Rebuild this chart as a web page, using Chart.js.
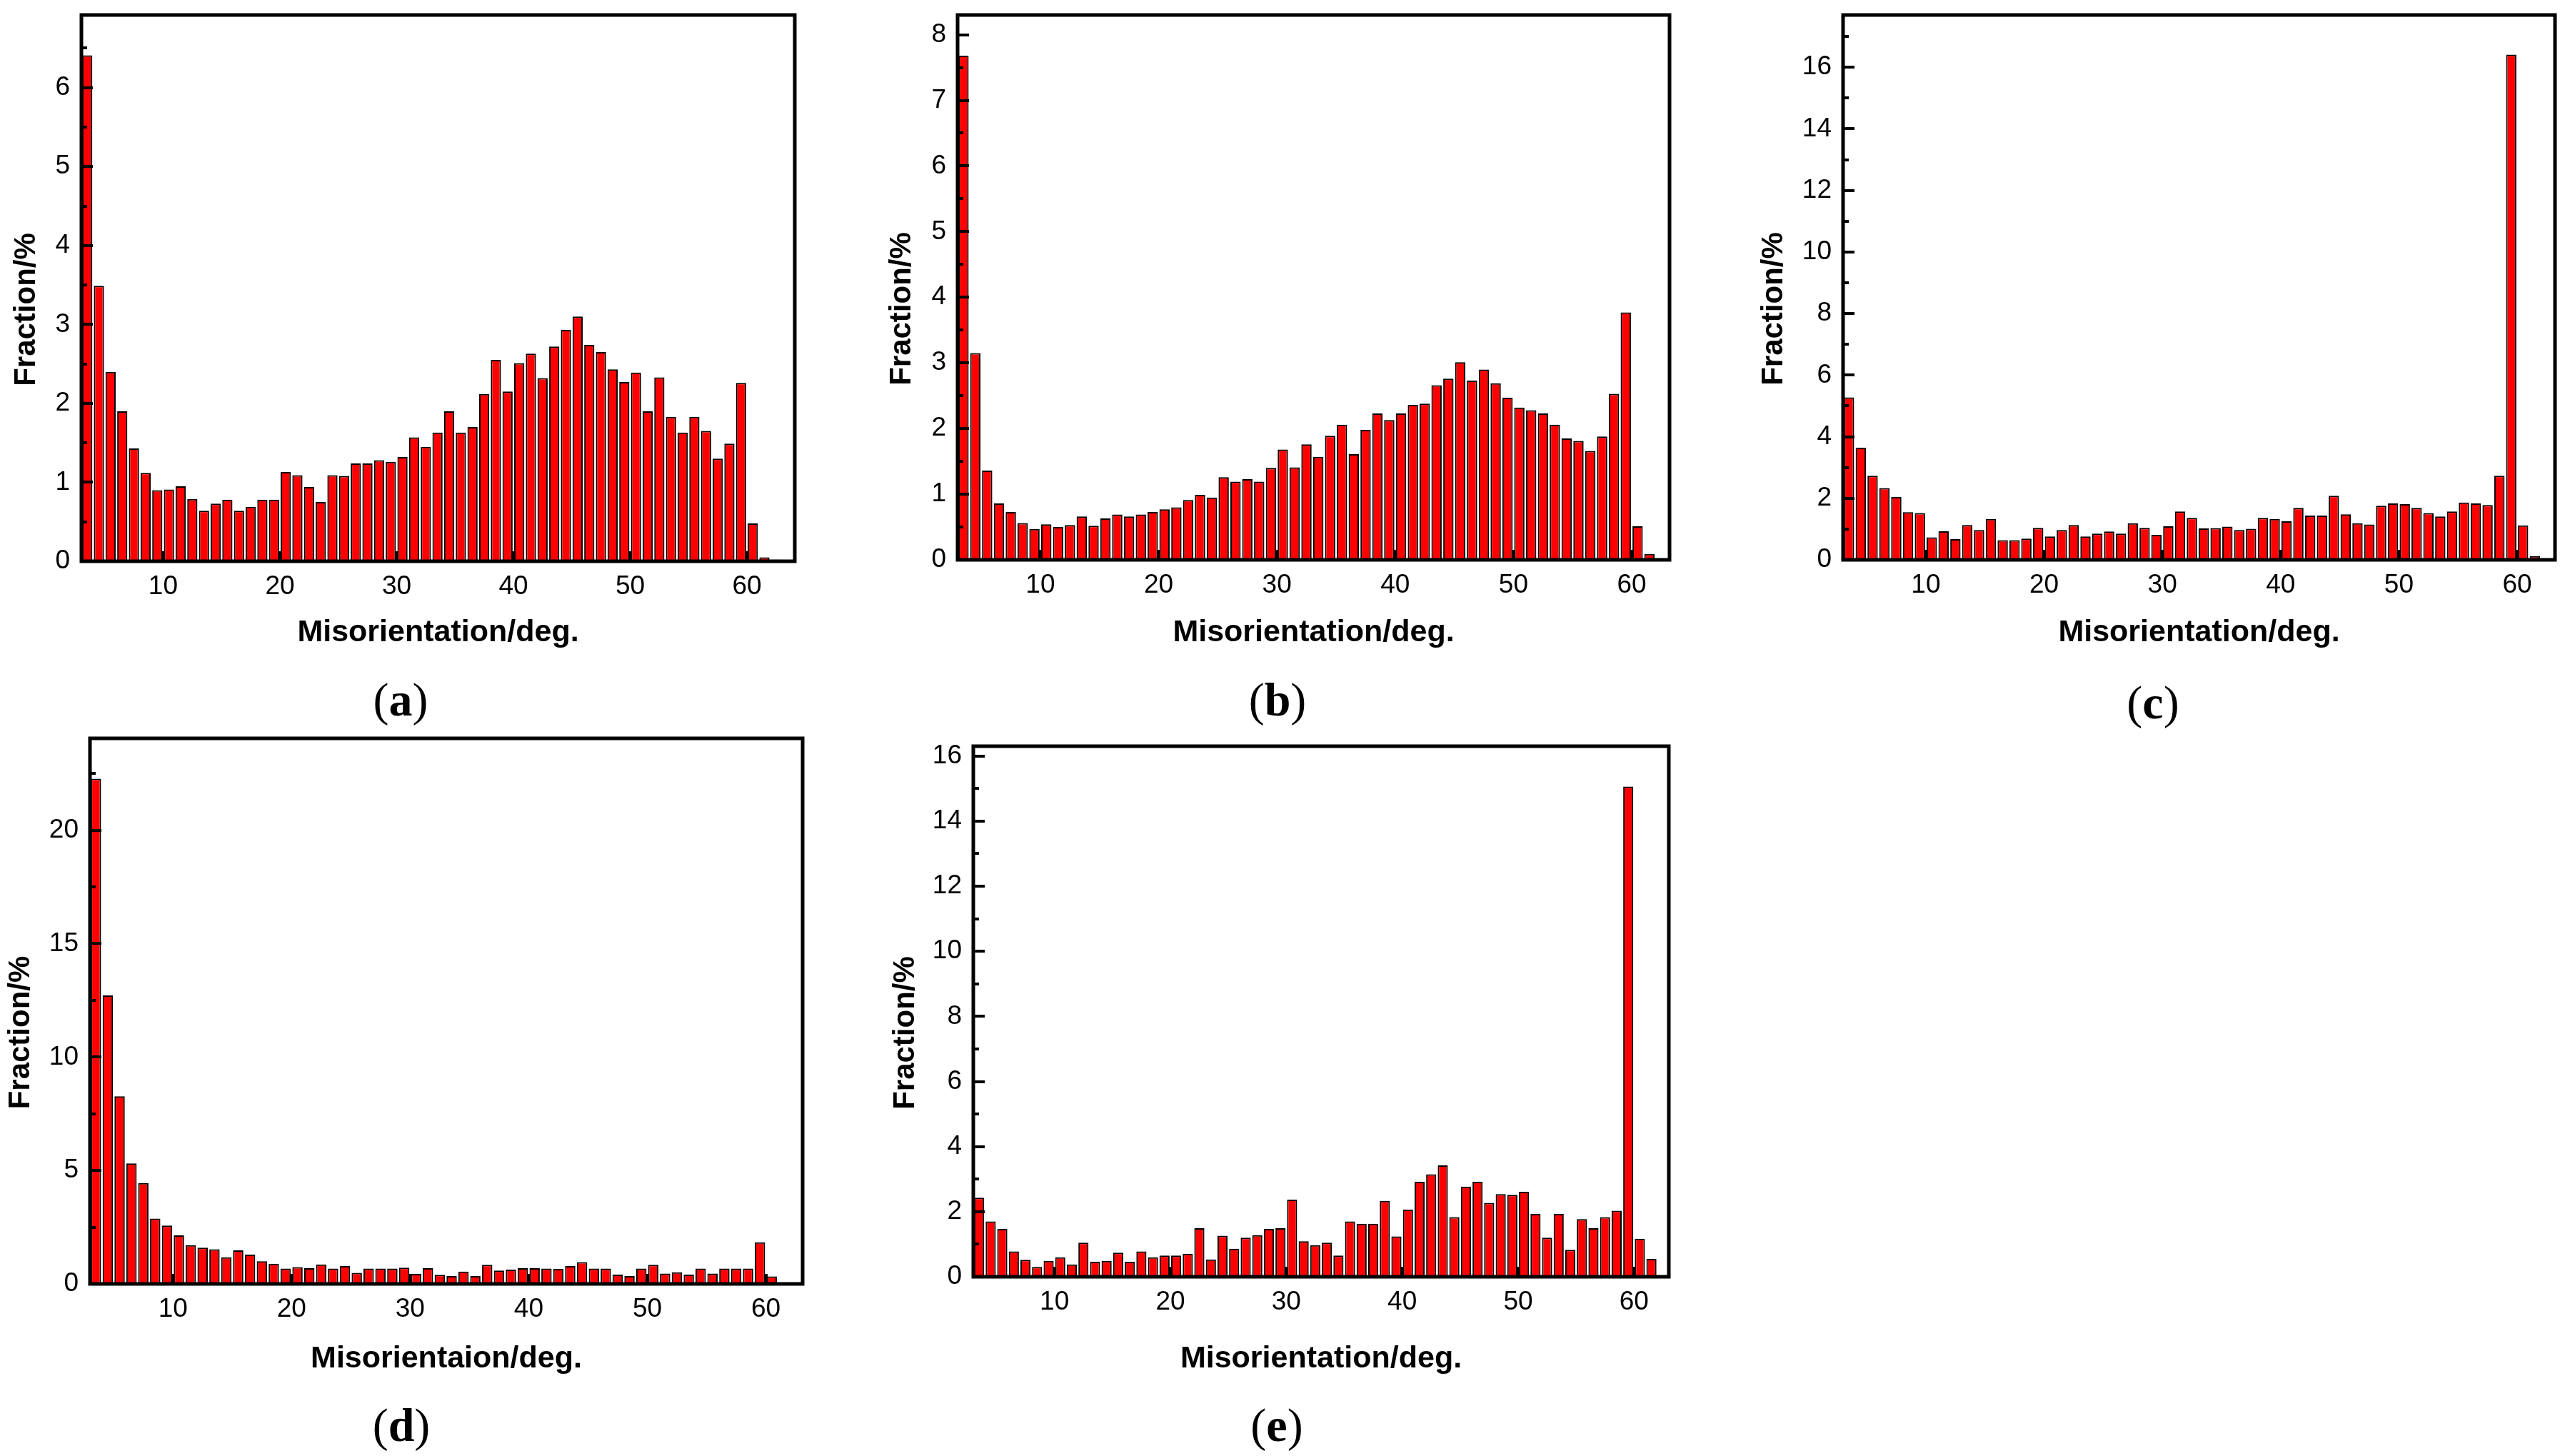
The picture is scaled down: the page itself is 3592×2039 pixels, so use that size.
<!DOCTYPE html>
<html>
<head>
<meta charset="utf-8">
<title>Misorientation distributions</title>
<script src="https://cdn.jsdelivr.net/npm/chart.js@4.4.1/dist/chart.umd.min.js"></script>
<style>
    html, body { margin: 0; padding: 0; background: #fff; }
    #page { position: relative; width: 3592px; height: 2039px; overflow: hidden; background: #fff; }
    #page canvas { position: absolute; }
    .cap {
        position: absolute;
        font-family: "Liberation Serif", "Times New Roman", serif;
        font-size: 66px;
        line-height: 1;
        white-space: nowrap;
        transform: translate(-50%, -50%);
        color: #000;
    }
</style>
</head>
<body>
<div id="page"></div>
<script>
// left edge of each 1 degree misorientation bin
const bins = [3, 4, 5, 6, 7, 8, 9, 10, 11, 12, 13, 14, 15, 16, 17, 18, 19, 20, 21, 22,
    23, 24, 25, 26, 27, 28, 29, 30, 31, 32, 33, 34, 35, 36, 37, 38, 39, 40, 41, 42,
    43, 44, 45, 46, 47, 48, 49, 50, 51, 52, 53, 54, 55, 56, 57, 58, 59, 60, 61, 62];

// fraction (%) per bin
const fracA = [6.41, 3.49, 2.40, 1.90, 1.43, 1.12, 0.90, 0.91, 0.95, 0.79,
    0.64, 0.73, 0.78, 0.64, 0.69, 0.78, 0.78, 1.13, 1.09, 0.94,
    0.75, 1.09, 1.08, 1.24, 1.24, 1.28, 1.26, 1.32, 1.57, 1.45,
    1.63, 1.90, 1.63, 1.70, 2.12, 2.55, 2.15, 2.51, 2.63, 2.32,
    2.72, 2.93, 3.10, 2.74, 2.65, 2.43, 2.27, 2.39, 1.90, 2.33,
    1.83, 1.63, 1.83, 1.65, 1.30, 1.49, 2.26, 0.48, 0.05, 0.02];
const fracB = [7.68, 3.15, 1.36, 0.86, 0.73, 0.56, 0.47, 0.54, 0.50, 0.53,
    0.66, 0.52, 0.63, 0.69, 0.66, 0.69, 0.73, 0.77, 0.80, 0.91,
    0.99, 0.95, 1.26, 1.19, 1.23, 1.19, 1.40, 1.68, 1.41, 1.76,
    1.57, 1.89, 2.06, 1.61, 1.98, 2.23, 2.13, 2.23, 2.36, 2.38,
    2.66, 2.76, 3.01, 2.73, 2.90, 2.69, 2.47, 2.32, 2.28, 2.23,
    2.06, 1.85, 1.81, 1.66, 1.88, 2.53, 3.77, 0.51, 0.09];
const fracC = [5.28, 3.64, 2.73, 2.33, 2.04, 1.55, 1.52, 0.73, 0.93, 0.67,
    1.13, 0.97, 1.33, 0.64, 0.64, 0.69, 1.04, 0.76, 0.97, 1.13,
    0.76, 0.85, 0.92, 0.85, 1.19, 1.04, 0.81, 1.09, 1.57, 1.36,
    1.02, 1.03, 1.08, 0.97, 1.01, 1.36, 1.33, 1.25, 1.69, 1.44,
    1.44, 2.08, 1.48, 1.19, 1.15, 1.76, 1.83, 1.81, 1.69, 1.52,
    1.41, 1.57, 1.86, 1.83, 1.78, 2.73, 16.41, 1.12, 0.12];
const fracD = [22.27, 12.72, 8.27, 5.31, 4.45, 2.88, 2.57, 2.14, 1.71, 1.60,
    1.53, 1.17, 1.48, 1.29, 1.00, 0.89, 0.68, 0.74, 0.69, 0.86,
    0.68, 0.79, 0.49, 0.68, 0.68, 0.68, 0.72, 0.44, 0.69, 0.40,
    0.35, 0.54, 0.35, 0.84, 0.59, 0.63, 0.69, 0.69, 0.68, 0.66,
    0.79, 0.96, 0.68, 0.68, 0.41, 0.35, 0.68, 0.84, 0.46, 0.51,
    0.41, 0.68, 0.46, 0.68, 0.68, 0.68, 1.83, 0.33];
const fracE = [2.43, 1.70, 1.47, 0.78, 0.52, 0.30, 0.49, 0.60, 0.38, 1.05,
    0.46, 0.49, 0.74, 0.46, 0.78, 0.60, 0.65, 0.65, 0.71, 1.49,
    0.53, 1.26, 0.86, 1.20, 1.28, 1.47, 1.49, 2.37, 1.09, 0.97,
    1.05, 0.65, 1.70, 1.63, 1.63, 2.33, 1.24, 2.06, 2.92, 3.15,
    3.42, 1.83, 2.77, 2.92, 2.27, 2.54, 2.52, 2.61, 1.93, 1.20,
    1.93, 0.83, 1.77, 1.49, 1.83, 2.03, 15.06, 1.17, 0.55];

// tick labels
const xTickLabels = [10, 20, 30, 40, 50, 60];
const yTicksA = [0, 1, 2, 3, 4, 5, 6];
const yTicksB = [0, 1, 2, 3, 4, 5, 6, 7, 8];
const yTicksC = [0, 2, 4, 6, 8, 10, 12, 14, 16];
const yTicksD = [0, 5, 10, 15, 20];
const yTicksE = [0, 2, 4, 6, 8, 10, 12, 14, 16];

const SANS = '"Liberation Sans", Arial, Helvetica, sans-serif';
const NARROW = '"Liberation Sans Narrow", "Arial Narrow", "Liberation Sans", Arial, sans-serif';
const TICK_SIZE = 37;
const YTITLE_SIZE = 42;
const XTITLE_SIZE = 43;
const Y_TITLE = 'Fraction/%';

// plot box (page px), title positions, axis ranges
const panels = [
    { tag: 'a', vals: fracA, yTicks: yTicksA, minor: 0.5, yMax: 6.92, xMax: 64.1,
      plot: [114, 21, 1113, 786], yTitleX: 37, xTitleY: 886, cap: [561, 980],
      xTitle: 'Misorientation/deg.' },
    { tag: 'b', vals: fracB, yTicks: yTicksB, minor: 0.5, yMax: 8.3, xMax: 63.2,
      plot: [1341, 21, 2338, 784], yTitleX: 1263, xTitleY: 886, cap: [1789, 980],
      xTitle: 'Misorientation/deg.' },
    { tag: 'c', vals: fracC, yTicks: yTicksC, minor: 1, yMax: 17.7, xMax: 63.2,
      plot: [2581, 21, 3578, 784], yTitleX: 2484, xTitleY: 886, cap: [3015, 984],
      xTitle: 'Misorientation/deg.' },
    { tag: 'd', vals: fracD, yTicks: yTicksD, minor: 2.5, yMax: 24.05, xMax: 63.1,
      plot: [126, 1034, 1124, 1798], yTitleX: 29, xTitleY: 1903, cap: [562, 1996],
      xTitle: 'Misorientaion/deg.' },
    { tag: 'e', vals: fracE, yTicks: yTicksE, minor: 1, yMax: 16.3, xMax: 63.0,
      plot: [1363, 1045, 2337, 1788], yTitleX: 1268, xTitleY: 1903, cap: [1788, 1996],
      xTitle: 'Misorientation/deg.' }
];

// black frame, inward ticks and the y title (sits a bit below centre in the original)
const frameTicks = {
    id: 'frameTicks',
    afterDatasetsDraw(chart, args, opts) {
        const { ctx, chartArea: a, scales: { x, y } } = chart;
        ctx.save();
        ctx.strokeStyle = '#000';
        ctx.lineCap = 'butt';

        ctx.lineWidth = 4;
        ctx.beginPath();
        opts.yTicks.forEach(v => {
            const py = Math.round(y.getPixelForValue(v));
            ctx.moveTo(a.left, py);
            ctx.lineTo(a.left + 16, py);
        });
        for (let v = opts.minor; v < opts.yMax; v += opts.minor) {
            if (opts.yTicks.includes(+v.toFixed(3))) continue;
            const py = Math.round(y.getPixelForValue(v));
            ctx.moveTo(a.left, py);
            ctx.lineTo(a.left + 8, py);
        }
        xTickLabels.forEach(v => {
            const px = Math.round(x.getPixelForValue(v));
            ctx.moveTo(px, a.bottom);
            ctx.lineTo(px, a.bottom - 14);
        });
        ctx.stroke();

        ctx.lineWidth = 5;
        ctx.strokeRect(a.left, a.top, a.right - a.left, a.bottom - a.top);

        ctx.translate(opts.titleX, (a.top + a.bottom) / 2 + 30);
        ctx.rotate(-Math.PI / 2);
        ctx.fillStyle = '#000';
        ctx.font = 'bold ' + YTITLE_SIZE + 'px ' + SANS;
        ctx.textAlign = 'center';
        ctx.textBaseline = 'middle';
        ctx.fillText(Y_TITLE, 0, 0);
        ctx.restore();
    }
};

const page = document.getElementById('page');

panels.forEach(p => {
    const [pl, pt, pr, pb] = p.plot;
    const cLeft = Math.max(0, p.yTitleX - 40);
    const cTop = Math.max(0, pt - 15);
    const cRight = Math.min(3592, pr + 12);
    const cBottom = Math.round(p.xTitleY + 4 + XTITLE_SIZE * 0.6);
    const W = cRight - cLeft, H = cBottom - cTop;

    const canvas = document.createElement('canvas');
    canvas.width = W;
    canvas.height = H;
    canvas.style.left = cLeft + 'px';
    canvas.style.top = cTop + 'px';
    canvas.style.width = W + 'px';
    canvas.style.height = H + 'px';
    page.appendChild(canvas);

    const cap = document.createElement('div');
    cap.className = 'cap';
    cap.style.left = p.cap[0] + 'px';
    cap.style.top = p.cap[1] + 'px';
    cap.innerHTML = '(<b>' + p.tag + '</b>)';
    page.appendChild(cap);

    const yAxisW = pl - cLeft;
    const xAxisH = cBottom - pb;

    new Chart(canvas, {
        type: 'bar',
        data: {
            datasets: [{
                data: p.vals.map((v, i) => ({ x: bins[i] + 0.5, y: v })),
                backgroundColor: '#ff0000',
                borderColor: '#000000',
                borderWidth: 2,
                categoryPercentage: 1.0,
                barPercentage: 0.87
            }]
        },
        options: {
            responsive: false,
            animation: false,
            devicePixelRatio: 1,
            layout: { padding: { left: 0, top: pt - cTop, right: cRight - pr, bottom: 0 } },
            plugins: {
                legend: { display: false },
                tooltip: { enabled: false },
                frameTicks: { yTicks: p.yTicks, minor: p.minor, yMax: p.yMax, titleX: p.yTitleX - cLeft }
            },
            scales: {
                x: {
                    type: 'linear',
                    min: 3,
                    max: p.xMax,
                    offset: false,
                    grid: { display: false, drawTicks: false, offset: false },
                    border: { display: false },
                    afterBuildTicks: s => { s.ticks = xTickLabels.map(v => ({ value: v })); },
                    afterFit: s => { s.height = xAxisH; s.paddingLeft = 0; s.paddingRight = 0; },
                    ticks: {
                        autoSkip: false,
                        maxRotation: 0,
                        padding: 14,
                        color: '#000',
                        font: { family: NARROW, size: TICK_SIZE }
                    },
                    title: {
                        display: true,
                        text: p.xTitle,
                        color: '#000',
                        padding: { top: 4, bottom: 4 },
                        font: { family: SANS, size: XTITLE_SIZE, weight: 'bold' }
                    }
                },
                y: {
                    type: 'linear',
                    min: 0,
                    max: p.yMax,
                    grid: { display: false, drawTicks: false },
                    border: { display: false },
                    afterBuildTicks: s => { s.ticks = p.yTicks.map(v => ({ value: v })); },
                    afterFit: s => { s.width = yAxisW; s.paddingTop = 0; s.paddingBottom = 0; },
                    ticks: {
                        padding: 16,
                        color: '#000',
                        font: { family: NARROW, size: TICK_SIZE }
                    },
                    title: { display: false }
                }
            }
        },
        plugins: [frameTicks]
    });
});
</script>
</body>
</html>
